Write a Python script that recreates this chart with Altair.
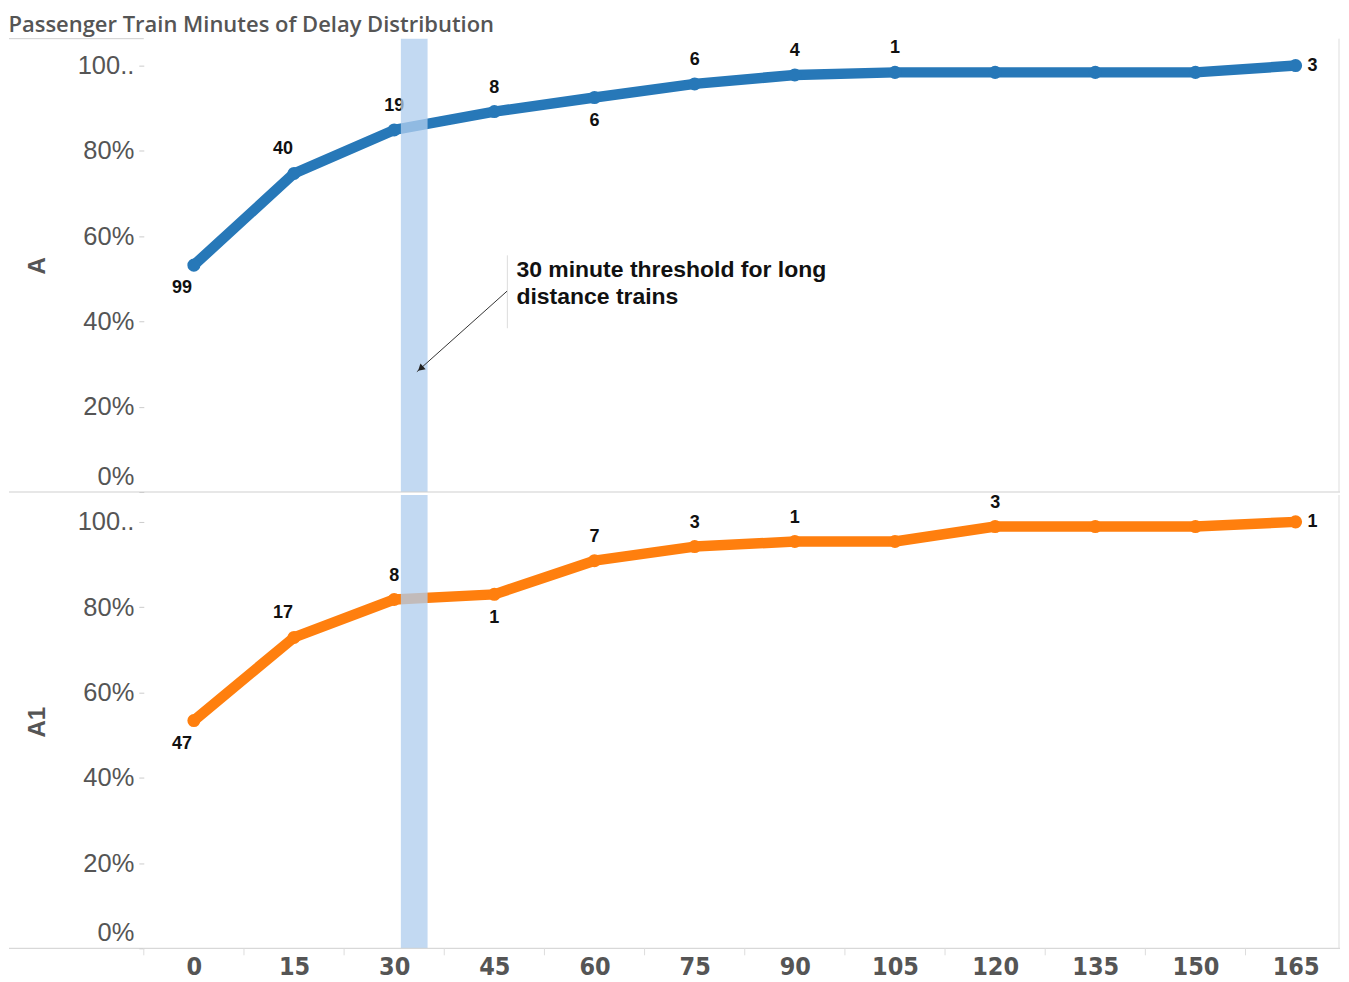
import altair as alt
import pandas as pd

# ---- data ----
minutes = [0, 15, 30, 45, 60, 75, 90, 105, 120, 135, 150, 165]
a_counts = [99, 40, 19, 8, 6, 6, 4, 1, 0, 0, 0, 3]
a_pct = [53.2, 74.7, 84.9, 89.2, 92.5, 95.7, 97.8, 98.4, 98.4, 98.4, 98.4, 100.0]
a1_counts = [47, 17, 8, 1, 7, 3, 1, 0, 3, 0, 0, 1]
a1_pct = [53.4, 72.9, 81.8, 83.0, 90.9, 94.2, 95.4, 95.4, 98.9, 98.9, 98.9, 100.0]
y_ticks = [0, 20, 40, 60, 80, 100]
band_start = [31]
band_end = [35]
note_lines = ["30 minute threshold for long", "distance trains"]
note_x = [48.3, 48.3]
note_y = [50.3, 44.2]
arrow_x = [46.9, 33.4]
arrow_y = [47.1, 28.2]
tick_bounds = [-7.5, 7.5, 22.5, 37.5, 52.5, 67.5, 82.5, 97.5, 112.5, 127.5, 142.5, 157.5]

W, H = 1197, 454
BLUE = "#2778b8"
ORANGE = "#ff7f0e"
SANS = "Liberation Sans, Arial, sans-serif"
NARROW = "Liberation Sans Narrow, Arial Narrow, DejaVu Sans Condensed, sans-serif"

one = pd.DataFrame({"k": [0]})


def panel(name, color, counts, pct, below, show_x):
    df = pd.DataFrame({"minute": minutes, "count": counts, "pct": pct})
    xs = alt.Scale(domain=[-7.5, 171.5], nice=False, zero=False)
    ys = alt.Scale(domain=[0, 106.3], nice=False, zero=True)
    if show_x:
        xaxis = alt.Axis(values=minutes, format="d", ticks=False, domain=False, grid=False,
                         labelFont=NARROW, labelFontSize=25, labelFontWeight="bold",
                         labelColor="#555555", labelPadding=6, title=None)
    else:
        xaxis = None
    yaxis = alt.Axis(values=y_ticks,
                     labelExpr="datum.value >= 100 ? '100..' : datum.value + '%'",
                     grid=False, domain=False, tickSize=5, tickColor="#cccccc",
                     labelPadding=5, labelFontSize=25.5, labelColor="#555555", labelFont=SANS,
                     labelFlush=True, labelFlushOffset=-3,
                     title=name, titleX=-106, titleY=H / 2, titleAngle=270,
                     titleAlign="center", titleBaseline="middle", titleFontSize=24,
                     titleColor="#555555", titleFont=SANS, titleFontWeight="bold")

    def X(f):
        return alt.X(f, scale=xs, axis=xaxis)

    def Y(f):
        return alt.Y(f, scale=ys, axis=yaxis)

    base = alt.Chart(df).encode(x=X("minute:Q"), y=Y("pct:Q"))
    line = base.mark_line(color=color, strokeWidth=10.5, strokeCap="round", strokeJoin="round")
    pts = base.mark_circle(color=color, size=170, opacity=1)

    below_list = "[" + ",".join(str(b) for b in below) + "]"
    is_below = f"indexof({below_list}, datum.minute) >= 0"
    txt = dict(fontSize=18, fontWeight="bold", font=SANS, color="#111111", baseline="middle")
    lab = base.encode(text="count:Q")
    l1 = lab.transform_filter(f"datum.count > 0 && !({is_below}) && datum.minute == 15").mark_text(dx=-11, dy=-24, **txt)
    l2 = lab.transform_filter(f"datum.count > 0 && !({is_below}) && datum.minute >= 30 && datum.minute < 165").mark_text(dx=0, dy=-24, **txt)
    l3 = lab.transform_filter(f"datum.count > 0 && ({is_below}) && datum.minute == 0").mark_text(dx=-12, dy=23, **txt)
    l4 = lab.transform_filter(f"datum.count > 0 && ({is_below}) && datum.minute > 0").mark_text(dx=0, dy=24, **txt)
    l5 = lab.transform_filter("datum.count > 0 && datum.minute == 165").mark_text(dx=12, dy=0, align="left", **txt)

    band = alt.Chart(pd.DataFrame({"start": band_start, "end": band_end})).mark_rect(
        color="#b0cdee", opacity=0.77
    ).encode(x=X("start:Q"), x2="end:Q", y=alt.value(0), y2=alt.value(H))

    sep = alt.Chart(one).mark_rule(color="#cfcfcf", strokeWidth=1).encode(
        x=alt.value(-135), x2=alt.value(W + 1), y=alt.value(H))
    right = alt.Chart(one).mark_rule(color="#dddddd", strokeWidth=1).encode(
        x=alt.value(W), y=alt.value(0), y2=alt.value(H))

    layers = [line, pts, l1, l2, l3, l4, l5, band, sep, right]

    if show_x:
        ticks = alt.Chart(pd.DataFrame({"b": tick_bounds})).mark_rule(color="#dddddd").encode(
            x=X("b:Q"), y=alt.value(H), y2=alt.value(H + 7))
        layers.append(ticks)
    else:
        head = alt.Chart(one).mark_rule(color="#cfcfcf", strokeWidth=1).encode(
            x=alt.value(-135), x2=alt.value(0), y=alt.value(0))
        note_df = pd.DataFrame({"t": note_lines, "x": note_x, "y": note_y})
        note = alt.Chart(note_df).mark_text(align="left", baseline="alphabetic", fontSize=23,
                                            fontWeight="bold", font=SANS, color="#111111").encode(
            x=X("x:Q"), y=Y("y:Q"), text="t:N")
        bar = alt.Chart(pd.DataFrame({"x": [note_x[0] - 1.35], "y": [55.5], "y2": [38.4]})).mark_rule(
            color="#dddddd").encode(x=X("x:Q"), y=Y("y:Q"), y2="y2:Q")
        arr = alt.Chart(pd.DataFrame({"x": [arrow_x[0]], "x2": [arrow_x[1]],
                                      "y": [arrow_y[0]], "y2": [arrow_y[1]]})).mark_rule(
            color="#333333", strokeWidth=1).encode(x=X("x:Q"), x2="x2:Q", y=Y("y:Q"), y2="y2:Q")
        head_pt = alt.Chart(pd.DataFrame({"x": [arrow_x[1] + 0.55], "y": [arrow_y[1] + 0.75]})).mark_point(
            shape="triangle-up", filled=True, angle=228, size=60, color="#222222", opacity=1).encode(
            x=X("x:Q"), y=Y("y:Q"))
        layers += [head, bar, arr, head_pt, note]

    return alt.layer(*layers).properties(width=W, height=H)


top = panel("A", BLUE, a_counts, a_pct, [0, 60], False)
bottom = panel("A1", ORANGE, a1_counts, a1_pct, [0, 45], True)

chart = alt.vconcat(top, bottom, spacing=0).properties(
    title=alt.TitleParams("Passenger Train Minutes of Delay Distribution", anchor="start",
                          frame="bounds", fontSize=22, font="Open Sans", fontWeight=600,
                          color="#555555", offset=1),
    padding={"top": 5, "left": 0, "right": 0, "bottom": 0},
).configure_view(stroke=None)

chart.save("out.html", embed_options={"renderer": "svg", "actions": False})
